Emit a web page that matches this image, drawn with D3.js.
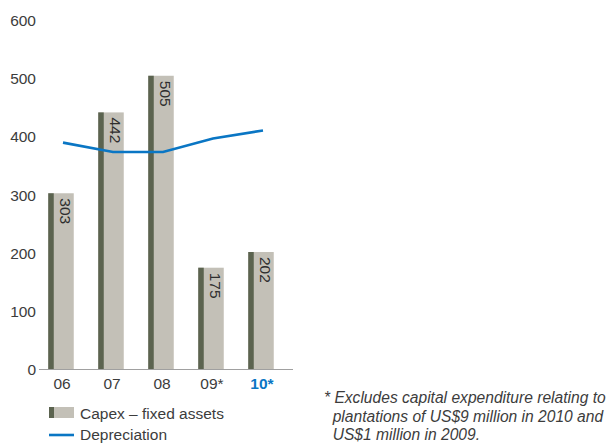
<!DOCTYPE html>
<html>
<head>
<meta charset="utf-8">
<script src="https://cdn.jsdelivr.net/npm/d3@7"></script>
<style>
  html, body { margin: 0; padding: 0; background: #fff; }
  svg { display: block; }
  text { font-family: "Liberation Sans", Arial, sans-serif; }
</style>
</head>
<body>
<svg id="chart" width="610" height="443"></svg>
<script>
// Capex vs depreciation, US$ million
const years = ["06", "07", "08", "09*", "10*"];
const capex = [303, 442, 505, 175, 202];
const depreciation = [390, 374, 374, 397, 411];
const yTicks = [0, 100, 200, 300, 400, 500, 600];
const footnote = [
  "* Excludes capital expenditure relating to",
  "  plantations of US$9 million in 2010 and",
  "  US$1 million in 2009."
];

const svg = d3.select("#chart");
const textCol = "#3c3c3c";
const barLight = "#c3c0b7";
const barDark = "#5b634f";
const blue = "#0a76c4";

const y = d3.scaleLinear().domain([0, 600]).range([369.5, 20.5]);
const x = d3.scalePoint().domain(years).range([61, 261]);
const barW = 25.5, stripW = 5.5;

// y tick labels (no gridlines)
svg.append("g").selectAll("text").data(yTicks).join("text")
  .attr("x", 36).attr("y", d => y(d)).attr("dy", "0.36em")
  .attr("text-anchor", "end").attr("font-size", 15.5).attr("fill", textCol)
  .text(d => d);

// bars: light body with dark left strip
const bars = svg.append("g").selectAll("g").data(years).join("g");
bars.append("rect")
  .attr("x", d => x(d) - barW / 2).attr("width", barW)
  .attr("y", (d, i) => y(capex[i])).attr("height", (d, i) => y(0) - y(capex[i]))
  .attr("fill", barLight);
bars.append("rect")
  .attr("x", d => x(d) - barW / 2).attr("width", stripW)
  .attr("y", (d, i) => y(capex[i])).attr("height", (d, i) => y(0) - y(capex[i]))
  .attr("fill", barDark);
bars.append("text")
  .attr("transform", (d, i) => `translate(${x(d) - 1.5},${y(capex[i]) + 5}) rotate(90)`)
  .attr("font-size", 15.5).attr("fill", "#2e2e2e")
  .attr("text-anchor", "start")
  .text((d, i) => capex[i]);

// baseline
svg.append("line")
  .attr("x1", 39).attr("x2", 293).attr("y1", y(0)).attr("y2", y(0))
  .attr("stroke", "#a0a0a0").attr("stroke-width", 1);

// x labels
svg.append("g").selectAll("text").data(years).join("text")
  .attr("x", d => x(d) + 1).attr("y", 389)
  .attr("text-anchor", "middle").attr("font-size", 15.5)
  .attr("fill", (d, i) => i === years.length - 1 ? blue : textCol)
  .attr("font-weight", (d, i) => i === years.length - 1 ? "bold" : "normal")
  .text(d => d);

// depreciation line
const line = d3.line().x((d, i) => x(years[i]) + 2).y(d => y(d));
svg.append("path").datum(depreciation)
  .attr("d", line).attr("fill", "none")
  .attr("stroke", blue).attr("stroke-width", 2.6);

// legend
svg.append("rect").attr("x", 49).attr("y", 407).attr("width", 25).attr("height", 11).attr("fill", barLight);
svg.append("rect").attr("x", 49).attr("y", 407).attr("width", 5).attr("height", 11).attr("fill", barDark);
svg.append("text").attr("x", 80).attr("y", 419).attr("font-size", 15.5).attr("fill", textCol)
  .text("Capex \u2013 fixed assets");
svg.append("line").attr("x1", 49).attr("x2", 74).attr("y1", 435).attr("y2", 435)
  .attr("stroke", blue).attr("stroke-width", 2.6);
svg.append("text").attr("x", 80).attr("y", 439.5).attr("font-size", 15.5).attr("fill", textCol)
  .text("Depreciation");

// footnote
svg.append("g").selectAll("text").data(footnote).join("text")
  .attr("x", 324).attr("y", (d, i) => 403 + i * 18.5)
  .attr("font-size", 15.6).attr("font-style", "italic").attr("fill", textCol)
  .attr("xml:space", "preserve").style("white-space", "pre")
  .text(d => d);
</script>
</body>
</html>
